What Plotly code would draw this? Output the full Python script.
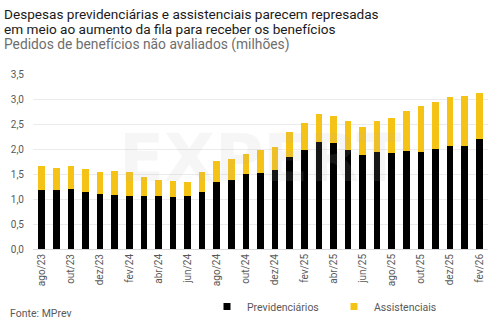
import plotly.graph_objects as go

# Monthly backlog of benefit requests (millions)
months = ["ago/23", "set/23", "out/23", "nov/23", "dez/23", "jan/24", "fev/24", "mar/24",
          "abr/24", "mai/24", "jun/24", "jul/24", "ago/24", "set/24", "out/24", "nov/24",
          "dez/24", "jan/25", "fev/25", "mar/25", "abr/25", "mai/25", "jun/25", "jul/25",
          "ago/25", "set/25", "out/25", "nov/25", "dez/25", "jan/26", "fev/26"]
previdenciarios = [1.18, 1.18, 1.21, 1.14, 1.10, 1.09, 1.07, 1.06, 1.06, 1.04, 1.06, 1.15,
                   1.34, 1.39, 1.50, 1.53, 1.58, 1.84, 1.98, 2.15, 2.13, 1.98, 1.89, 1.94,
                   1.92, 1.97, 1.95, 2.01, 2.06, 2.06, 2.21]
assistenciais = [0.49, 0.45, 0.45, 0.46, 0.44, 0.48, 0.47, 0.38, 0.32, 0.32, 0.28, 0.39,
                 0.42, 0.41, 0.40, 0.45, 0.46, 0.50, 0.54, 0.55, 0.54, 0.58, 0.55, 0.62,
                 0.70, 0.80, 0.91, 0.94, 0.98, 1.01, 0.91]
tick_labels = months[::2]

BLACK = "#000000"
YELLOW = "#F5C216"
GRAY = "#595959"
FONT = "Roboto"

# plot area in pixels
L, R, T, B = 33, 14, 74, 76
PW, PH = 502 - L - R, 325 - T - B


def px_x(x):
    return (x - L) / PW


def px_y(y):
    return (325 - B - y) / PH


fig = go.Figure()
fig.add_trace(go.Bar(x=months, y=previdenciarios, name="Previdenciários",
                     marker=dict(color=BLACK, line=dict(width=0)), showlegend=False))
fig.add_trace(go.Bar(x=months, y=assistenciais, name="Assistenciais",
                     marker=dict(color=YELLOW, line=dict(width=0)), showlegend=False))

# Legend entries with small square swatches
fig.add_trace(go.Scatter(x=[None], y=[None], mode="markers", name="Previdenciários",
                         marker=dict(symbol="square", size=7, color=BLACK), legend="legend"))
fig.add_trace(go.Scatter(x=[None], y=[None], mode="markers", name="Assistenciais",
                         marker=dict(symbol="square", size=7, color=YELLOW), legend="legend2"))

legend_common = dict(orientation="h", xanchor="left", yanchor="top",
                     font=dict(family=FONT, size=10.5, color=GRAY), itemwidth=30,
                     bgcolor="rgba(0,0,0,0)")

fig.update_layout(
    width=502, height=325,
    barmode="stack", bargap=0.55,
    separators=", ",
    paper_bgcolor="white", plot_bgcolor="white",
    margin=dict(l=L, r=R, t=T, b=B, autoexpand=False),
    font=dict(family=FONT, color=GRAY, size=10),
    showlegend=True,
    legend=dict(x=px_x(207), y=px_y(292), **legend_common),
    legend2=dict(x=px_x(334), y=px_y(292), **legend_common),
    xaxis=dict(type="category", tickmode="array", tickvals=tick_labels, ticktext=tick_labels,
               tickangle=-90, tickfont=dict(size=10, color=GRAY), showgrid=False,
               showline=True, linecolor="#d9d9d9", linewidth=1, ticks="",
               range=[-0.6, len(months) - 0.4]),
    yaxis=dict(range=[0, 3.5], dtick=0.5, tickformat=".1f", tickfont=dict(size=10, color=GRAY),
               showgrid=True, gridcolor="#ebebeb", gridwidth=1, zeroline=False,
               showline=False, ticks="", ticklabelstandoff=8),
)

# Title block
title_lines = ["Despesas previdenciárias e assistenciais parecem represadas",
               "em meio ao aumento da fila para receber os benefícios"]
for text, yc in zip(title_lines, [13.5, 29]):
    fig.add_annotation(text=text, xref="paper", yref="paper", x=px_x(2), y=px_y(yc),
                       xanchor="left", yanchor="middle", align="left", showarrow=False,
                       font=dict(family=FONT, size=13.6, color="#1a1a1a"))
fig.add_annotation(text="Pedidos de benefícios não avaliados (milhões)",
                   xref="paper", yref="paper", x=px_x(2), y=px_y(44.5),
                   xanchor="left", yanchor="middle", align="left", showarrow=False,
                   font=dict(family=FONT, size=13.8, color="#6e6e6e"))
# Source note
fig.add_annotation(text="Fonte: MPrev", xref="paper", yref="paper",
                   x=px_x(8), y=px_y(313), xanchor="left", yanchor="middle",
                   showarrow=False, font=dict(family=FONT, size=10.5, color=GRAY))
# Watermark
fig.add_annotation(text="<b>EXPERT</b>", xref="paper", yref="paper",
                   x=px_x(260), y=px_y(158), xanchor="center", yanchor="middle",
                   showarrow=False,
                   font=dict(family="DejaVu Sans", size=66, color="rgba(185,185,185,0.12)"))

fig.write_html("out.html")
